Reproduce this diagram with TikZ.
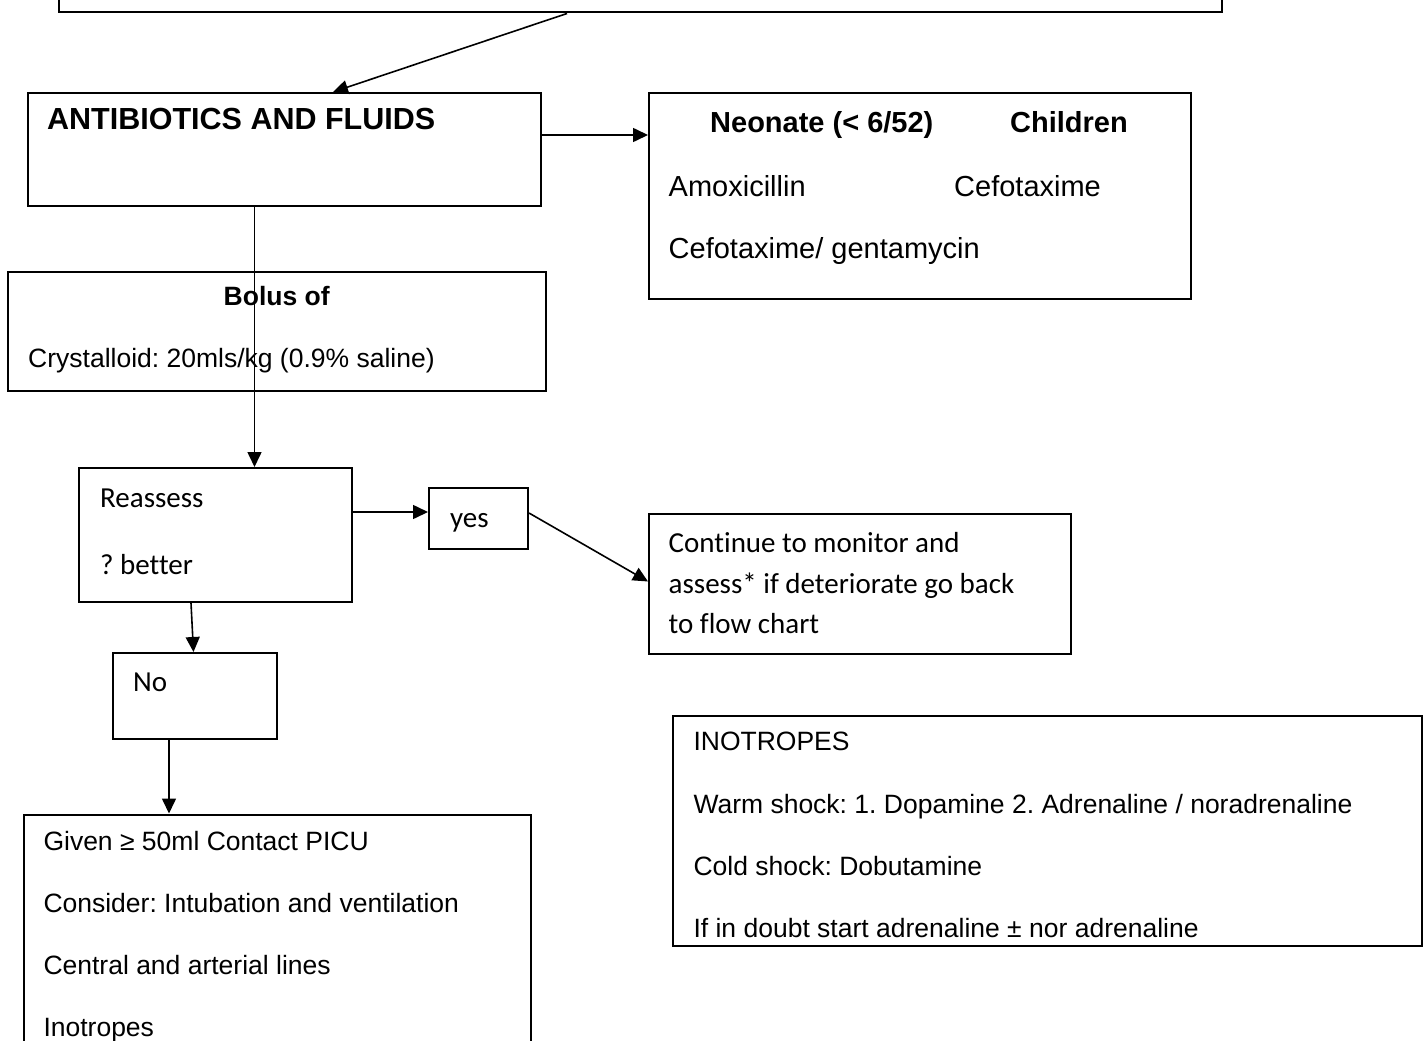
\documentclass[tikz,border=0pt]{standalone}
\usepackage{fontspec}
\setmainfont{Liberation Sans}
\newfontfamily\calib[Ligatures=NoCommon]{Carlito}
\usetikzlibrary{arrows.meta}
\tikzset{
  box/.style={draw, line width=2pt, rectangle, inner sep=0pt, anchor=north west},
  lbl/.style={anchor=base west, inner sep=0pt},
  hbig/.style={lbl, font=\fontsize{30.5pt}{36pt}\selectfont\bfseries},
  hmid/.style={lbl, font=\fontsize{29pt}{34pt}\selectfont\bfseries},
  tmid/.style={lbl, font=\fontsize{29pt}{34pt}\selectfont},
  hsml/.style={lbl, font=\fontsize{26.5pt}{32pt}\selectfont\bfseries},
  tsml/.style={lbl, font=\fontsize{26.5pt}{32pt}\selectfont},
  tcal/.style={lbl, font=\fontsize{29pt}{34pt}\selectfont\calib},
  conn/.style={line width=1.6pt, -{Triangle[length=15pt,width=14pt]}},
}
\begin{document}
\frenchspacing
\begin{tikzpicture}[x=1pt,y=-1pt]
\useasboundingbox (0,0) rectangle (1424,1041);
\clip (0,0) rectangle (1424,1041);
% boxes
\node[box, minimum width=1163pt, minimum height=71.5pt] (top) at (58,-60) {};
\node[box, minimum width=513.5pt, minimum height=112.5pt] (ab) at (26.5,92) {};
\node[box, minimum width=542pt, minimum height=206pt] (neo) at (648,92) {};
\node[box, minimum width=538pt, minimum height=119pt] (bol) at (7,270.5) {};
\node[box, minimum width=273pt, minimum height=134pt] (rea) at (78,467) {};
\node[box, minimum width=99pt, minimum height=60.5pt] (yes) at (428,487) {};
\node[box, minimum width=422pt, minimum height=140pt] (cont) at (648,513) {};
\node[box, minimum width=164pt, minimum height=85.5pt] (no) at (112,652) {};
\node[box, minimum width=507pt, minimum height=300pt] (giv) at (23,813.5) {};
\node[box, minimum width=749pt, minimum height=230pt] (ino) at (672,715) {};
% texts
\node[hbig] (tab) at (47,129) {ANTIBIOTICS AND FLUIDS};
\node[hmid] (tneo) at (710,132) {Neonate (< 6/52)};
\node[hmid] (tchi) at (1010,132) {Children};
\node[tmid] (tamo) at (668.5,196) {Amoxicillin};
\node[tmid] (tcef) at (954,196) {Cefotaxime};
\node[tmid] (tcg) at (668.5,258) {Cefotaxime/ gentamycin};
\node[hsml] (tbol) at (223.5,305) {Bolus of};
\node[tsml] (tcry) at (28,367) {Crystalloid: 20mls/kg (0.9\% saline)};
\node[tcal] (trea) at (100,507) {Reassess};
\node[tcal] (tbet) at (100,574) {? better};
\node[tcal] (tyes) at (450,527) {yes};
\node[tcal] (tno) at (133,691) {No};
\node[tcal] (tc1) at (668.5,552) {Continue to monitor and};
\node[tcal] (tc2) at (668.5,593) {assess* if deteriorate go back};
\node[tcal] (tc3) at (668.5,633) {to flow chart};
\node[tsml] (tg1) at (43.3,850) {Given ≥ 50ml Contact PICU};
\node[tsml] (tg2) at (43.3,912) {Consider: Intubation and ventilation};
\node[tsml] (tg3) at (43.3,974) {Central and arterial lines};
\node[tsml] (tg4) at (43.3,1036) {Inotropes};
\node[tsml] (ti1) at (693.3,750.7) {INOTROPES};
\node[tsml] (ti2) at (693.3,813) {Warm shock: 1. Dopamine 2. Adrenaline / noradrenaline};
\node[tsml] (ti3) at (693.3,875) {Cold shock: Dobutamine};
\node[tsml] (ti4) at (693.3,937) {If in doubt start adrenaline ± nor adrenaline};
% connectors
\draw[conn] ([xshift=509pt]top.south west) -- ([xshift=306.5pt]ab.north west);
\draw[conn] ([yshift=-43pt]ab.north east) -- ([yshift=-43pt]neo.north west);
\draw[conn] ([xshift=228pt]ab.south west) -- ([xshift=176.5pt]rea.north west);
\draw[conn] ([yshift=-45pt]rea.north east) -- ([yshift=-25pt]yes.north west);
\draw[conn] ([yshift=-26pt]yes.north east) -- ([yshift=-68.5pt]cont.north west);
\draw[conn] ([xshift=113pt]rea.south west) -- ([xshift=81.5pt]no.north west);
\draw[conn] ([xshift=57pt]no.south west) -- ([xshift=146pt]giv.north west);
\end{tikzpicture}
\end{document}
